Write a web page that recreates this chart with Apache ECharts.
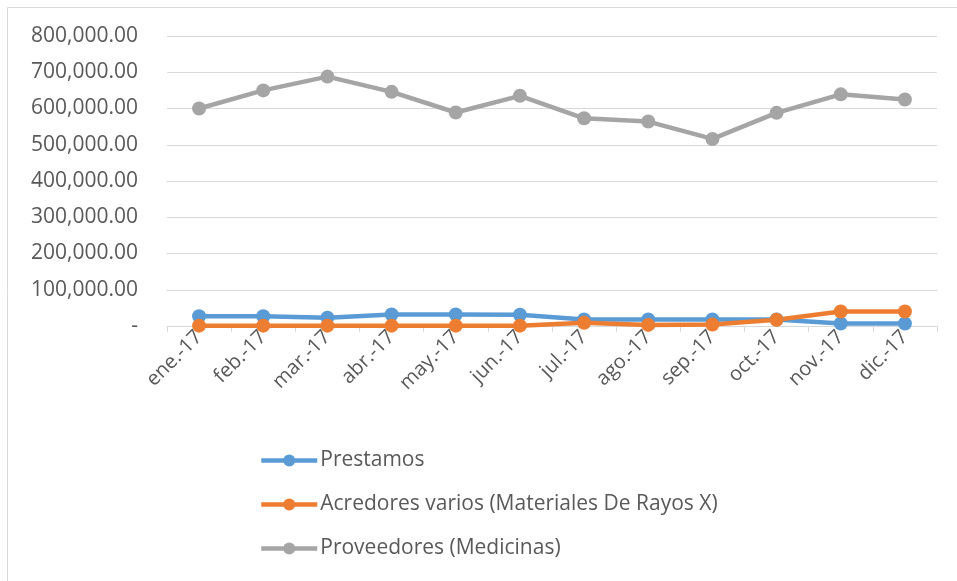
<!DOCTYPE html>
<html>
<head>
<meta charset="utf-8">
<script src="https://cdn.jsdelivr.net/npm/echarts@6/dist/echarts.min.js"></script>
<style>
  html, body { margin: 0; padding: 0; background: #fff; }
  #chart { width: 957px; height: 581px; }
</style>
</head>
<body>
<div id="chart"></div>
<script>
(function(){
    var months = ['ene.-17', 'feb.-17', 'mar.-17', 'abr.-17', 'may.-17', 'jun.-17',
                  'jul.-17', 'ago.-17', 'sep.-17', 'oct.-17', 'nov.-17', 'dic.-17'];
    var prestamos = [27000, 27000, 23000, 32000, 32000, 31000, 18000, 18000, 18000, 18000, 7000, 7000];
    var acreedores = [1000, 1000, 1000, 1000, 1000, 1000, 9000, 3000, 4000, 17000, 40000, 40000];
    var proveedores = [600000, 650000, 688000, 646000, 589000, 635000, 573000, 564000, 516000, 588000, 639000, 625000];

    var font = '"Open Sans", "Liberation Sans", sans-serif';

    function fmt(v){
        if (v === 0) return '-';
        return v.toLocaleString('en-US', {minimumFractionDigits: 2, maximumFractionDigits: 2});
    }

    function line(name, color, data){
        return {
            name: name,
            type: 'line',
            data: data,
            symbol: 'circle',
            symbolSize: 14,
            color: color,
            lineStyle: {width: 4.5, color: color},
            itemStyle: {color: color}
        };
    }

    var myChart = echarts.init(document.getElementById('chart'));
    myChart.setOption({
        animation: false,
        textStyle: {fontFamily: font},
        graphic: [{
            type: 'rect',
            shape: {x: 7.5, y: 7.5, width: 960, height: 600},
            style: {fill: null, stroke: '#D9D9D9', lineWidth: 1},
            silent: true
        }],
        grid: {left: 167, right: 20, top: 36, bottom: 255, containLabel: false},
        legend: {
            orient: 'vertical',
            left: 254,
            top: 445,
            itemGap: 23,
            itemWidth: 56,
            itemHeight: 15,
            lineStyle: {width: 4.5},
            textStyle: {fontSize: 21, color: '#595959', fontFamily: font, padding: [0, 0, 0, -2]},
            data: ['Prestamos', 'Acredores varios (Materiales De Rayos X)', 'Proveedores (Medicinas)']
        },
        xAxis: {
            type: 'category',
            data: months,
            boundaryGap: true,
            axisLine: {lineStyle: {color: '#D9D9D9', width: 1}},
            axisTick: {show: true, length: 6, lineStyle: {color: '#D9D9D9'}},
            axisLabel: {rotate: 45, fontSize: 20, color: '#595959', margin: 8, fontFamily: font}
        },
        yAxis: {
            type: 'value',
            min: 0,
            max: 800000,
            interval: 100000,
            axisLine: {show: false},
            axisTick: {show: false},
            splitLine: {lineStyle: {color: '#D9D9D9', width: 1}},
            axisLabel: {fontSize: 21, color: '#595959', margin: 29, fontFamily: font, formatter: fmt}
        },
        series: [
            line('Prestamos', '#5B9BD5', prestamos),
            line('Acredores varios (Materiales De Rayos X)', '#ED7D31', acreedores),
            line('Proveedores (Medicinas)', '#A5A5A5', proveedores)
        ]
    });
}());
</script>
</body>
</html>
